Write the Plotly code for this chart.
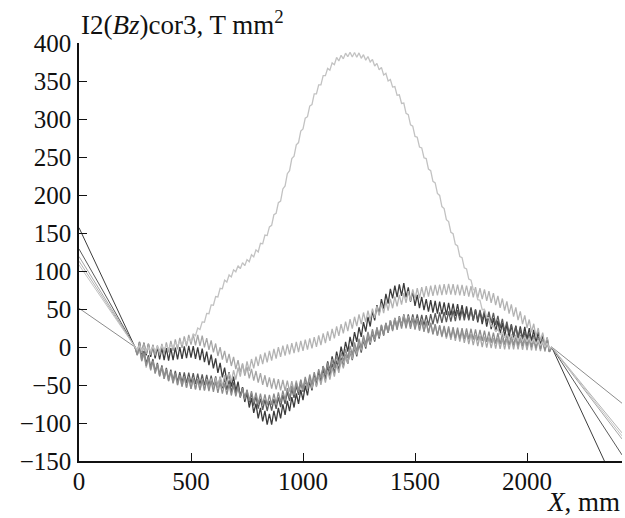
import numpy as np
import plotly.graph_objects as go

# Undulator region end points and drift-line end values (T mm^2)
X_START, X_END, X_MAX = 250, 2110, 2424
RIPPLE_HALF_PERIOD = 10  # mm, read from the zig-zag spacing

knot_x = [250, 300, 350, 400, 450, 500, 550, 600, 650, 700, 750, 800, 850, 900, 950,
          1000, 1050, 1100, 1150, 1200, 1250, 1300, 1350, 1400, 1450, 1500, 1550, 1600,
          1650, 1700, 1750, 1800, 1850, 1900, 1950, 2000, 2050, 2110]

d1_y = [0, -3, -8, -10, -8, -6, -10, -20, -35, -50, -68, -86, -96, -86, -74,
        -62, -46, -30, -14, 2, 18, 35, 55, 72, 76, 62, 55, 52,
        50, 48, 44, 38, 30, 22, 20, 18, 12, 0]
d2_y = [0, -15, -28, -36, -40, -41, -43, -45, -48, -55, -64, -74, -78, -72, -62,
        -52, -44, -35, -25, -15, -3, 10, 20, 30, 36, 36, 35, 38,
        40, 42, 42, 42, 38, 28, 20, 12, 6, 0]
l3_y = [0, -2, -5, 0, 5, 10, 8, 0, -12, -22, -33, -40, -47, -50, -52,
        -50, -47, -40, -30, -15, 0, 12, 22, 30, 35, 32, 27, 22,
        17, 14, 10, 7, 5, 4, 4, 3, 2, 0]
l4_y = [0, -20, -30, -38, -45, -48, -50, -48, -44, -36, -26, -18, -12, -6, -2,
        2, 6, 12, 20, 28, 36, 42, 50, 58, 64, 70, 73, 75,
        76, 75, 73, 70, 64, 55, 45, 32, 18, 0]
l5_y = [0, -18, -30, -38, -44, -48, -50, -52, -55, -58, -63, -68, -70, -66, -58,
        -48, -40, -30, -18, -8, 4, 15, 22, 28, 32, 30, 26, 22,
        20, 18, 17, 15, 12, 10, 9, 8, 5, 0]
hump_y = [0, -3, -2, 0, 5, 10, 30, 58, 85, 102, 112, 128, 155, 195, 245,
          290, 330, 360, 378, 385, 384, 378, 365, 345, 318, 280, 245, 205,
          162, 122, 85, 52, 25, 15, 12, 10, 6, 0]

left_end = [157, 129, 119, 113, 51, 108]     # value at X = 0
right_end = [-200, -142, -121, -113, -74, -117]  # value at X = X_MAX
ripple_amp = [8, 7, 7, 7, 7, 3]
colors = ["#3c3c3c", "#5a5a5a", "#a6a6a6", "#b3b3b3", "#8c8c8c", "#c2c2c2"]
series = [d1_y, d2_y, l3_y, l4_y, l5_y, hump_y]

fig = go.Figure()
xs = np.arange(X_START, X_END + 1, RIPPLE_HALF_PERIOD)
for ys, y0, y1, amp, col in zip(series, left_end, right_end, ripple_amp, colors):
    center = np.interp(xs, knot_x, ys)
    sign = np.where(np.arange(len(xs)) % 2 == 0, 1.0, -1.0)
    sign[0] = 0
    sign[-1] = 0
    zz = center + sign * amp
    fig.add_trace(go.Scatter(x=[0, X_START], y=[y0, 0], mode="lines",
                             line=dict(color=col, width=1), showlegend=False,
                             hoverinfo="skip"))
    fig.add_trace(go.Scatter(x=[X_END, X_MAX], y=[0, y1], mode="lines",
                             line=dict(color=col, width=1), showlegend=False,
                             hoverinfo="skip"))
    fig.add_trace(go.Scatter(x=xs, y=zz, mode="lines",
                             line=dict(color=col, width=1.3), showlegend=False))

FAM = "Liberation Serif, Times New Roman, serif"
tick_font = dict(family=FAM, size=25, color="#111")
title_font = dict(family=FAM, size=27, color="#111")
fig.update_layout(
    width=625, height=518,
    margin=dict(l=79, r=3, t=43, b=57),
    paper_bgcolor="white", plot_bgcolor="white",
    font=tick_font,
    showlegend=False,
)
fig.update_xaxes(range=[0, X_MAX], tickvals=[0, 500, 1000, 1500, 2000],
                 ticks="inside", ticklen=8, tickwidth=1.3, tickcolor="#111",
                 showline=True, linecolor="#111", linewidth=1.5, automargin=False,
                 showgrid=False, zeroline=False, ticklabelstandoff=-3, tickfont=tick_font)
fig.update_yaxes(range=[-150, 400], tickvals=list(range(-150, 401, 50)),
                 ticks="inside", ticklen=8, tickwidth=1.3, tickcolor="#111",
                 showline=True, linecolor="#111", linewidth=1.5, automargin=False,
                 showgrid=False, zeroline=False, ticklabelstandoff=1, tickfont=tick_font)
fig.add_annotation(text="I2(<i>Bz</i>)cor3, T mm<sup>2</sup>", xref="paper", yref="paper",
                   x=0, y=1, xanchor="left", yanchor="bottom", yshift=1, showarrow=False,
                   font=title_font)
fig.add_annotation(text="<i>X</i>, mm", xref="paper", yref="paper",
                   x=1, y=0, xanchor="right", yanchor="top", yshift=-24, showarrow=False,
                   font=title_font)
fig.write_html("out.html", config={"displayModeBar": False},
               post_script="document.body.style.margin='0';document.body.style.overflow='hidden';")
